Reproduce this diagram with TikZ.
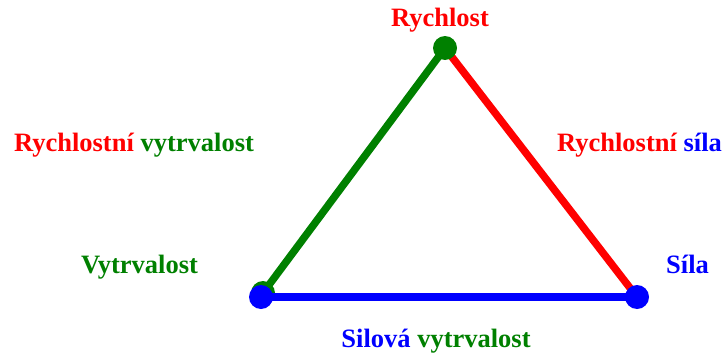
\documentclass[tikz,border=0pt]{standalone}
\usepackage{fontspec}
\setmainfont{Liberation Serif}
\definecolor{cred}{RGB}{255,0,0}
\definecolor{cgreen}{RGB}{0,128,0}
\definecolor{cblue}{RGB}{0,0,255}
\begin{document}
\begin{tikzpicture}[x=1pt, y=-1pt,
    dot/.style={circle, inner sep=0pt, minimum size=24pt},
    edge/.style={line width=7.5pt},
    lbl/.style={anchor=base, inner sep=0pt, font=\fontsize{26.5}{30}\selectfont\bfseries}]
    \useasboundingbox (0,0) rectangle (723,356);

    \coordinate (top) at (445,48);
    \coordinate (left) at (263,293);
    \coordinate (leftb) at (261,297);
    \coordinate (right) at (637,297);

    \draw[edge, cred] (top) -- (right);
    \draw[edge, cgreen] (top) -- (left);
    \node[dot, fill=cgreen] (rychlost) at (top) {};
    \node[dot, fill=cgreen] (vytrvalost) at (left) {};
    \draw[edge, cblue] (leftb) -- (right);
    \node[dot, fill=cblue] (vytrvalostb) at (leftb) {};
    \node[dot, fill=cblue] (sila) at (right) {};

    \node[lbl, cred] (tr) at (440,26) {Rychlost};
    \node[lbl] (trv) at (134,151) {\textcolor{cred}{Rychlostní} \textcolor{cgreen}{vytrvalost}};
    \node[lbl] (trs) at (639.5,151) {\textcolor{cred}{Rychlostní} \textcolor{cblue}{síla}};
    \node[lbl, cgreen] (tv) at (139.5,273) {Vytrvalost};
    \node[lbl, cblue] (ts) at (687.5,273) {Síla};
    \node[lbl] (tsv) at (436,347) {\textcolor{cblue}{Silová} \textcolor{cgreen}{vytrvalost}};
\end{tikzpicture}
\end{document}
